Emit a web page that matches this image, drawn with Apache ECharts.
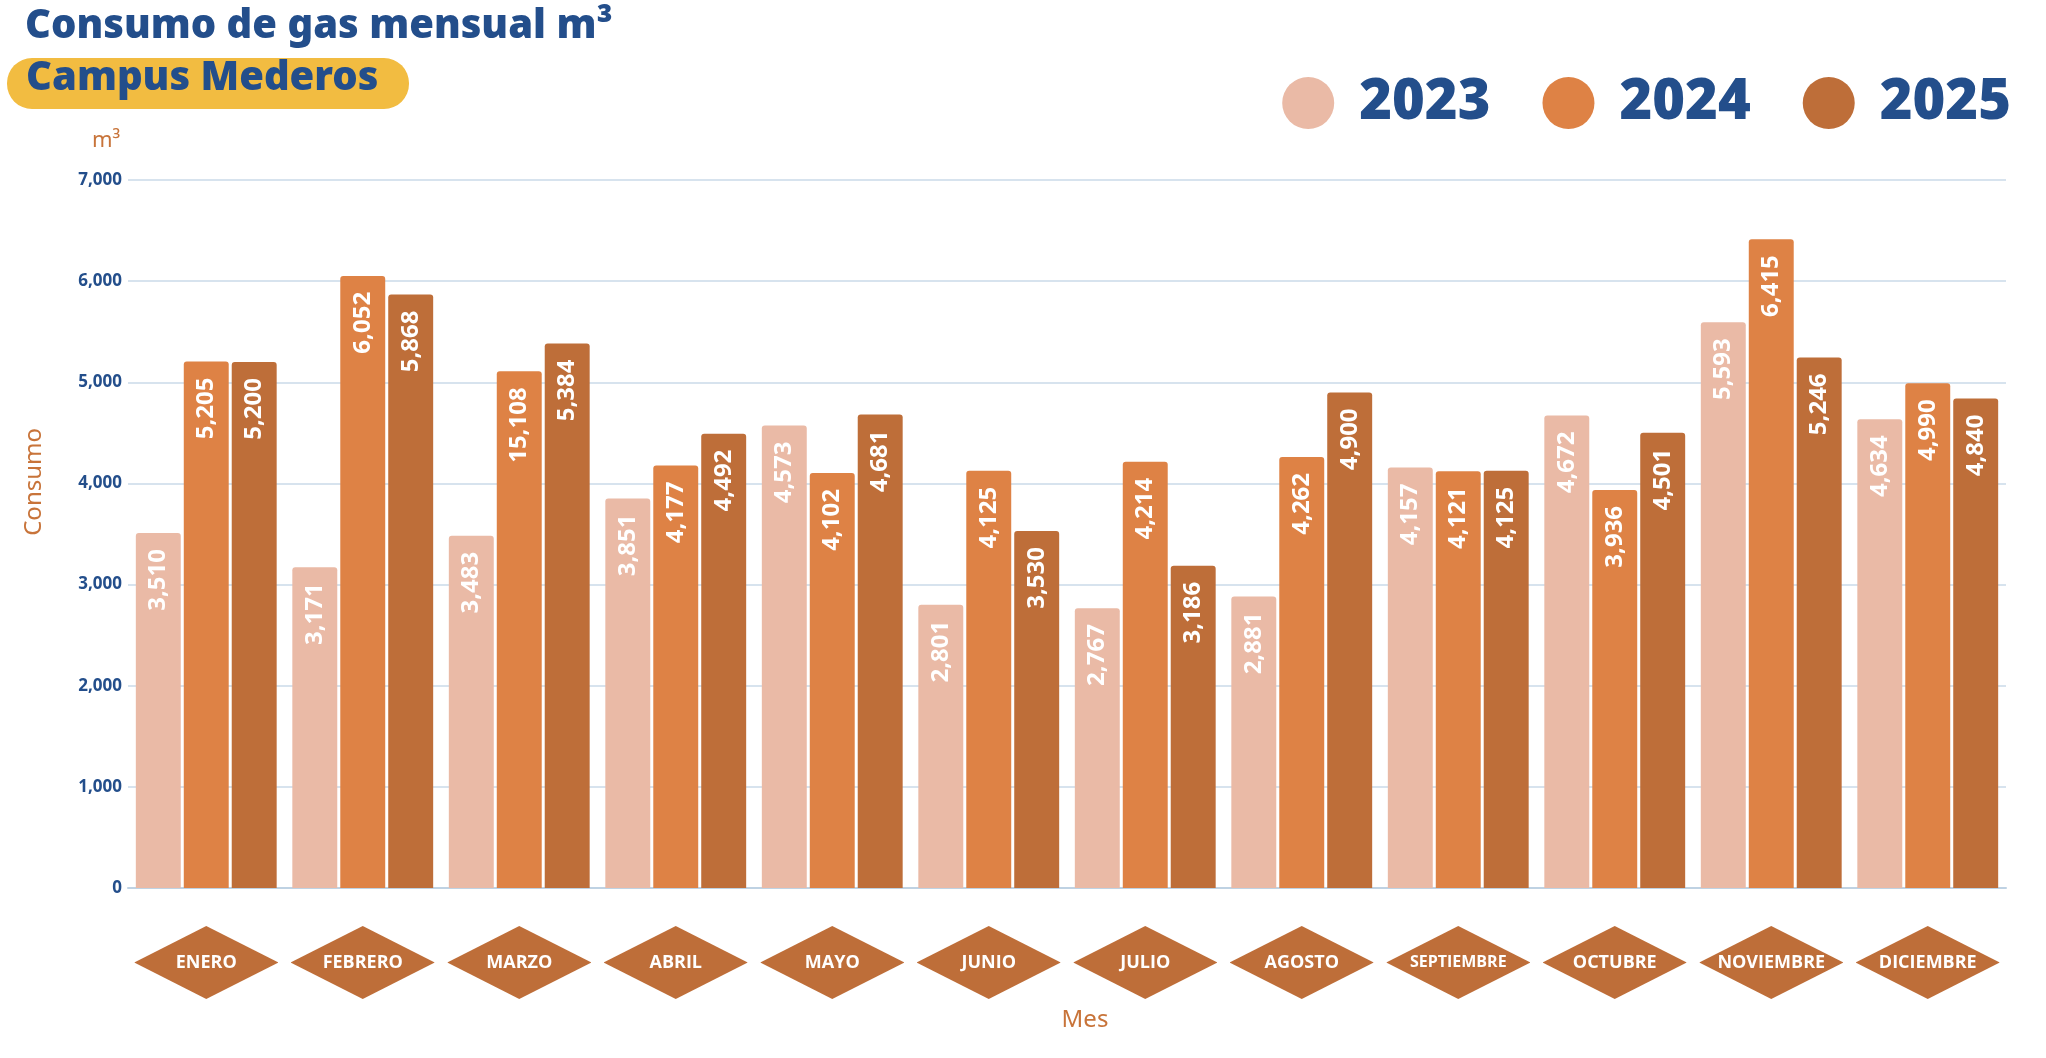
<!DOCTYPE html>
<html>
<head>
<meta charset="utf-8">
<title>Consumo de gas mensual</title>
<script src="https://cdn.jsdelivr.net/npm/echarts@6/dist/echarts.min.js"></script>
<style>
  html, body { margin: 0; padding: 0; background: #fff; }
  #chart { width: 2046px; height: 1058px; }
</style>
</head>
<body>
<div id="chart"></div>
<script>
const meses = ['ENERO', 'FEBRERO', 'MARZO', 'ABRIL', 'MAYO', 'JUNIO', 'JULIO', 'AGOSTO', 'SEPTIEMBRE', 'OCTUBRE', 'NOVIEMBRE', 'DICIEMBRE'];
const anios = ['2023', '2024', '2025'];
const consumo2023 = [3510, 3171, 3483, 3851, 4573, 2801, 2767, 2881, 4157, 4672, 5593, 4634];
const consumo2024 = [5205, 6052, 5108, 4177, 4102, 4125, 4214, 4262, 4121, 3936, 6415, 4990];
const consumo2025 = [5200, 5868, 5384, 4492, 4681, 3530, 3186, 4900, 4125, 4501, 5246, 4840];
// the source prints 15,108 on the March 2024 bar although the bar sits near 5,100
const rotulo2024 = [5205, 6052, 15108, 4177, 4102, 4125, 4214, 4262, 4121, 3936, 6415, 4990];
const ticksY = [0, 1000, 2000, 3000, 4000, 5000, 6000, 7000];

const navy = '#234E8B';
const naranja = '#C8743A';
const colores = ['#EABAA6', '#DE8245', '#BE6E39'];
const fmt = v => Number(v).toLocaleString('en-US');

const diamante = new Image();
diamante.onload = dibujar;
diamante.src = "data:image/svg+xml;utf8," + encodeURIComponent(
  "<svg xmlns='http://www.w3.org/2000/svg' width='144' height='73'><polygon points='0,36.5 72,0 144,36.5 72,73' fill='#BE6E39'/></svg>");

function serie(nombre, datos, color, rotulos) {
  return {
    name: nombre,
    type: 'bar',
    data: datos,
    barGap: '6.7%',
    barCategoryGap: '10%',
    itemStyle: { color: color, borderRadius: [3, 3, 0, 0] },
    label: {
      show: true,
      position: 'insideTop',
      rotate: 90,
      align: 'right',
      verticalAlign: 'middle',
      distance: 16,
      color: '#fff',
      fontSize: 24,
      fontWeight: 'bold',
      fontFamily: 'Noto Sans',
      formatter: p => fmt(rotulos ? rotulos[p.dataIndex] : p.value)
    }
  };
}

function dibujar() {
  const chart = echarts.init(document.getElementById('chart'));
  const etiquetaMes = { width: 144, height: 73, lineHeight: 73, align: 'center',
    backgroundColor: { image: diamante }, color: '#fff', fontSize: 18, fontWeight: 'bold', fontFamily: 'Open Sans' };
  chart.setOption({
    animation: false,
    title: {
      text: 'Consumo de gas mensual m³',
      left: 20, top: 2,
      textStyle: { color: navy, fontSize: 40, fontWeight: 900, fontFamily: 'Noto Sans' }
    },
    legend: {
      data: anios,
      right: 30, top: 70,
      icon: 'circle',
      itemWidth: 52, itemHeight: 52,
      itemGap: 52,
      textStyle: { color: navy, fontSize: 56, fontWeight: 900, fontFamily: 'Noto Sans', padding: [0, 0, 0, 20] }
    },
    graphic: [
      { type: 'rect', left: 7, top: 58, shape: { width: 402, height: 51, r: 25 }, style: { fill: '#F2BC41' } },
      { type: 'text', left: 26, top: 59, style: { text: 'Campus Mederos', fill: navy, font: '900 40px "Noto Sans"' } },
      { type: 'text', left: 92, top: 130, style: { text: 'm³', fill: naranja, font: '22px "Noto Sans"' } },
      { type: 'text', left: 22, top: 428, rotation: Math.PI / 2,
        style: { text: 'Consumo', fill: naranja, font: '24px "Noto Sans"' } }
    ],
    grid: { left: 128, right: 40, top: 180, bottom: 170 },
    xAxis: {
      type: 'category',
      data: meses,
      name: 'Mes',
      nameLocation: 'middle',
      nameGap: 120,
      nameTextStyle: { color: naranja, fontSize: 24, fontFamily: 'Noto Sans', padding: [0, 0, 0, 36] },
      axisLine: { lineStyle: { color: '#BFD2E3', width: 2 } },
      axisTick: { show: false },
      axisLabel: {
        margin: 38,
        interval: 0,
        formatter: v => v === 'SEPTIEMBRE' ? '{s|' + v + '}' : '{m|' + v + '}',
        rich: { m: etiquetaMes, s: Object.assign({}, etiquetaMes, { fontSize: 16 }) }
      }
    },
    yAxis: {
      type: 'value',
      min: ticksY[0], max: ticksY[ticksY.length - 1], interval: 1000,
      axisLabel: { color: navy, fontSize: 17, fontWeight: 'bold', fontFamily: 'Noto Sans', margin: 6, formatter: fmt },
      splitLine: { lineStyle: { color: '#CADAE8', width: 1.5 } }
    },
    series: [
      serie(anios[0], consumo2023, colores[0]),
      serie(anios[1], consumo2024, colores[1], rotulo2024),
      serie(anios[2], consumo2025, colores[2])
    ]
  });
}
</script>
</body>
</html>
